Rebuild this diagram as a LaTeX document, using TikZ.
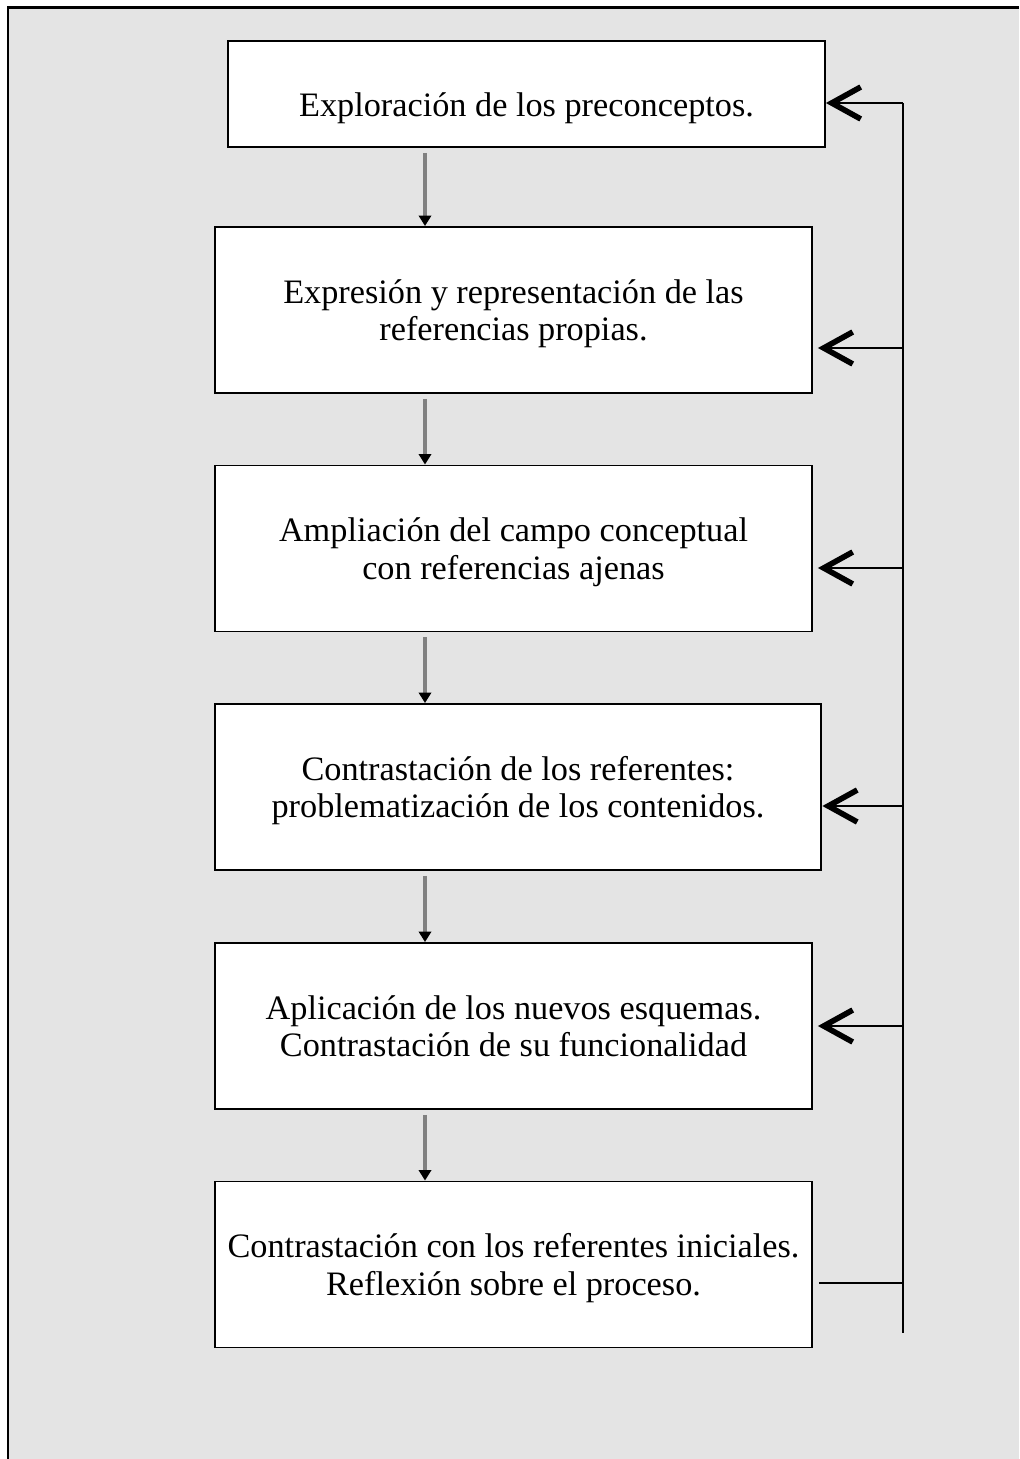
\documentclass[tikz,border=0pt]{standalone}
\usepackage{fontspec}
\setmainfont{Liberation Serif}
\usetikzlibrary{arrows.meta}
\definecolor{fondo}{HTML}{E4E4E4}
\definecolor{gris}{HTML}{808080}

\begin{document}
\begin{tikzpicture}[x=0.02cm,y=-0.02cm,
        paso/.style={draw,line width=1.1pt,fill=white,align=center,inner sep=0pt,
            minimum width=11.94cm,text depth=0pt,font=\fontsize{19.5}{21.5}\selectfont},
        baja/.style={draw=gris,line width=2pt,-{Triangle[length=6pt,width=7pt,color=black]}},
        vuelta/.style={line width=1.1pt,-{Straight Barb[length=0.58cm,width=0.64cm,line width=3.2pt]}}]
    \useasboundingbox (0,0) rectangle (1019,1459);
    \fill[fondo] (8,8) rectangle (1019,1459);
    \draw[line width=1.7pt] (8,1459) -- (8,8) -- (1019,8);
    % pasos
    \node[paso,minimum height=2.12cm,text height=0.9cm] (b1) at (526.5,94) {Exploración de los preconceptos.};
    \node[paso,minimum height=3.32cm] (b2) at (513.5,310) {Expresión y representación de las\\referencias propias.};
    \node[paso,minimum height=3.32cm] (b3) at (513.5,548.5) {Ampliación del campo conceptual\\con referencias ajenas};
    \node[paso,minimum height=3.32cm,minimum width=12.12cm] (b4) at (518,787) {Contrastación de los referentes:\\problematización de los contenidos.};
    \node[paso,minimum height=3.32cm] (b5) at (513.5,1026) {Aplicación de los nuevos esquemas.\\Contrastación de su funcionalidad};
    \node[paso,minimum height=3.32cm] (b6) at (513.5,1264.5) {Contrastación con los referentes iniciales.\\Reflexión sobre el proceso.};
    % flechas hacia abajo
    \coordinate (ax) at (425,0);
    \foreach \a/\b in {b1/b2, b2/b3, b3/b4, b4/b5, b5/b6}{
        \draw[baja] ([yshift=-0.1cm]\a.south -| ax) -- (\b.north -| ax);
    }
    % retorno
    \coordinate (rtop) at (903,103);
    \coordinate (rbot) at (903,1333);
    \draw[line width=1.1pt] (rtop) -- (rbot);
    \foreach \n/\y/\s in {b1/103/0, b2/348/0.1, b3/568/0.1, b4/806/0.01, b5/1026/0.1}{
        \coordinate (r\n) at (903,\y);
        \draw[vuelta] (r\n) -- ([xshift=\s cm]r\n -| \n.east);
    }
    \coordinate (rb6) at (903,1283);
    \draw[line width=1.1pt] ([xshift=0.12cm]rb6 -| b6.east) -- (rb6);
\end{tikzpicture}
\end{document}
